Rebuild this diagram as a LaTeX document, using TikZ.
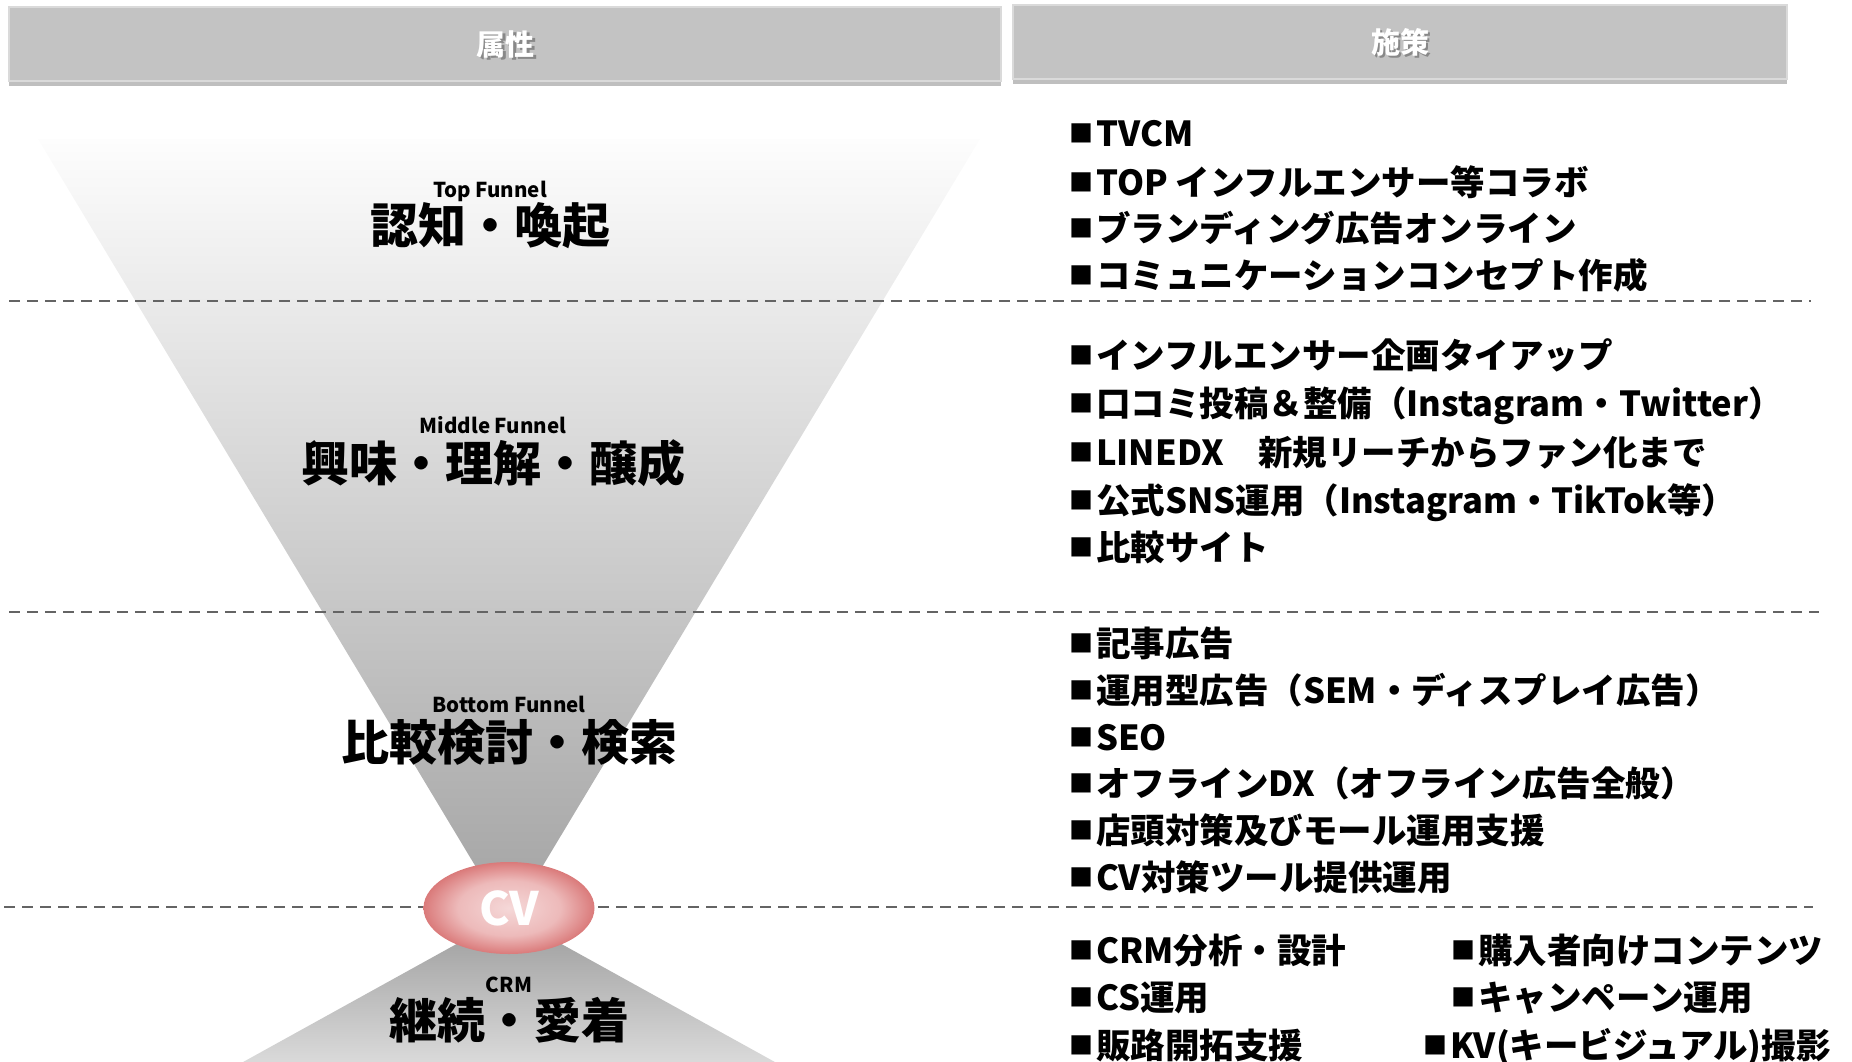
\documentclass[tikz,border=0pt]{standalone}
\usepackage{fontspec}
\setmainfont{Noto Sans CJK JP}
\usetikzlibrary{shapes.geometric,shadows}
\definecolor{hdrfill}{HTML}{C3C3C3}
\definecolor{hdrline}{HTML}{DADADA}
\definecolor{sepgray}{HTML}{646464}
\definecolor{funtop}{HTML}{FDFDFD}
\definecolor{funmid}{HTML}{DCDCDC}
\definecolor{funbot}{HTML}{A2A2A2}
\definecolor{crmtop}{HTML}{9A9A9A}
\definecolor{crmbot}{HTML}{DEDEDE}
\definecolor{cvin}{HTML}{F5D8D8}
\definecolor{cvmid}{HTML}{EDBABA}
\definecolor{cvout}{HTML}{DA7A7A}
\pgfdeclareradialshading{cvshade}{\pgfpoint{0bp}{0bp}}{color(0bp)=(cvin); color(15bp)=(cvmid); color(25bp)=(cvout); color(50bp)=(cvout)}
\newcommand\sqb{{\fontsize{24}{24}\selectfont\raisebox{4pt}{■}}\kern3pt}
\tikzset{
  hdrbox/.style={rectangle, fill=hdrfill, draw=hdrline, line width=1.5pt, inner sep=0pt,
    drop shadow={shadow xshift=0pt, shadow yshift=-5pt, opacity=0.25, fill=black}},
  hdrtxt/.style={text=white, font=\bfseries\fontsize{29}{29}\selectfont, inner sep=0pt},
  hdrshd/.style={text=black, text opacity=0.3, font=\bfseries\fontsize{29}{29}\selectfont, inner sep=0pt},
  sepline/.style={draw=sepgray, line width=2pt, dash pattern=on 11pt off 7pt},
  lblsmall/.style={font=\bfseries\fontsize{20.5}{20.5}\selectfont, inner sep=0pt},
  lblbig/.style={font=\bfseries\fontsize{48}{48}\selectfont, inner sep=0pt},
  itemtxt/.style={anchor=west, inner sep=0pt, font=\bfseries\fontsize{34.5}{34.5}\selectfont, text height=30pt, text depth=4pt},
}
\begin{document}
\begin{tikzpicture}[x=1pt,y=-1pt]
\useasboundingbox (0,0) rectangle (1852,1061);
% funnel shapes
\shade[top color=funtop, middle color=funmid, bottom color=funbot] (38,139) -- (980,139) -- (509,922) -- cycle;
\shade[top color=crmtop, bottom color=crmbot] (509,915) -- (793,1072) -- (225,1072) -- cycle;
% headers
\node[hdrbox, minimum width=992pt, minimum height=74pt] (h1) at (505,44) {};
\node[hdrbox, minimum width=774pt, minimum height=74pt] (h2) at (1400,42) {};
\node[hdrshd] (h1s) at (508,46) {属性};
\node[hdrtxt] (h1t) at (h1) {属性};
\node[hdrshd] (h2s) at (1402,44) {施策};
\node[hdrtxt] (h2t) at (h2) {施策};
% separators
\coordinate (s1a) at (9,301);   \coordinate (s1b) at (1811,301);
\coordinate (s2a) at (9,612);   \coordinate (s2b) at (1819,612);
\coordinate (s3a) at (4,907);   \coordinate (s3b) at (1813,907);
\draw[sepline] (s1a) -- (s1b);
\draw[sepline] (s2a) -- (s2b);
\draw[sepline] (s3a) -- (s3b);
% CV
\node[ellipse, minimum width=171pt, minimum height=92pt, inner sep=0pt, shade, shading=cvshade,
  text=white, font=\bfseries\fontsize{46}{46}\selectfont] (cv) at (509,908) {CV};
% left labels
\node[lblsmall] (t1) at (490,191) {Top Funnel};
\node[lblbig] (t2) at (490,226) {認知・喚起};
\node[lblsmall] (m1) at (493,425) {Middle Funnel};
\node[lblbig] (m2) at (493,463) {興味・理解・醸成};
\node[lblsmall] (b1) at (509,704) {Bottom Funnel};
\node[lblbig] (b2) at (509,742) {比較検討・検索};
\node[lblsmall] (c1) at (509,985) {CRM};
\node[lblbig] (c2) at (509,1020) {継続・愛着};
% right column
\node[itemtxt] (r1) at (1069,133) {\sqb TVCM};
\node[itemtxt] (r2) at (1069,182) {\sqb TOP インフルエンサー等コラボ};
\node[itemtxt] (r3) at (1069,228) {\sqb ブランディング広告オンライン};
\node[itemtxt] (r4) at (1069,275) {\sqb コミュニケーションコンセプト作成};
\node[itemtxt] (r5) at (1069,355) {\sqb インフルエンサー企画タイアップ};
\node[itemtxt] (r6) at (1069,403) {\sqb 口コミ投稿＆整備（Instagram・Twitter）};
\node[itemtxt] (r7) at (1069,452) {\sqb LINEDX　新規リーチからファン化まで};
\node[itemtxt] (r8) at (1069,500) {\sqb 公式SNS運用（Instagram・TikTok等）};
\node[itemtxt] (r9) at (1069,547) {\sqb 比較サイト};
\node[itemtxt] (r10) at (1069,643) {\sqb 記事広告};
\node[itemtxt] (r11) at (1069,690) {\sqb 運用型広告（SEM・ディスプレイ広告）};
\node[itemtxt] (r12) at (1069,737) {\sqb SEO};
\node[itemtxt] (r13) at (1069,783) {\sqb オフラインDX（オフライン広告全般）};
\node[itemtxt] (r14) at (1069,830) {\sqb 店頭対策及びモール運用支援};
\node[itemtxt] (r15) at (1069,877) {\sqb CV対策ツール提供運用};
\node[itemtxt] (r16) at (1069,950) {\sqb CRM分析・設計};
\node[itemtxt] (r17) at (1069,997) {\sqb CS運用};
\node[itemtxt] (r18) at (1069,1045) {\sqb 販路開拓支援};
\node[itemtxt] (r19) at (1451,950) {\sqb 購入者向けコンテンツ};
\node[itemtxt] (r20) at (1451,997) {\sqb キャンペーン運用};
\node[itemtxt] (r21) at (1423,1045) {\sqb KV(キービジュアル)撮影};
\end{tikzpicture}
\end{document}
